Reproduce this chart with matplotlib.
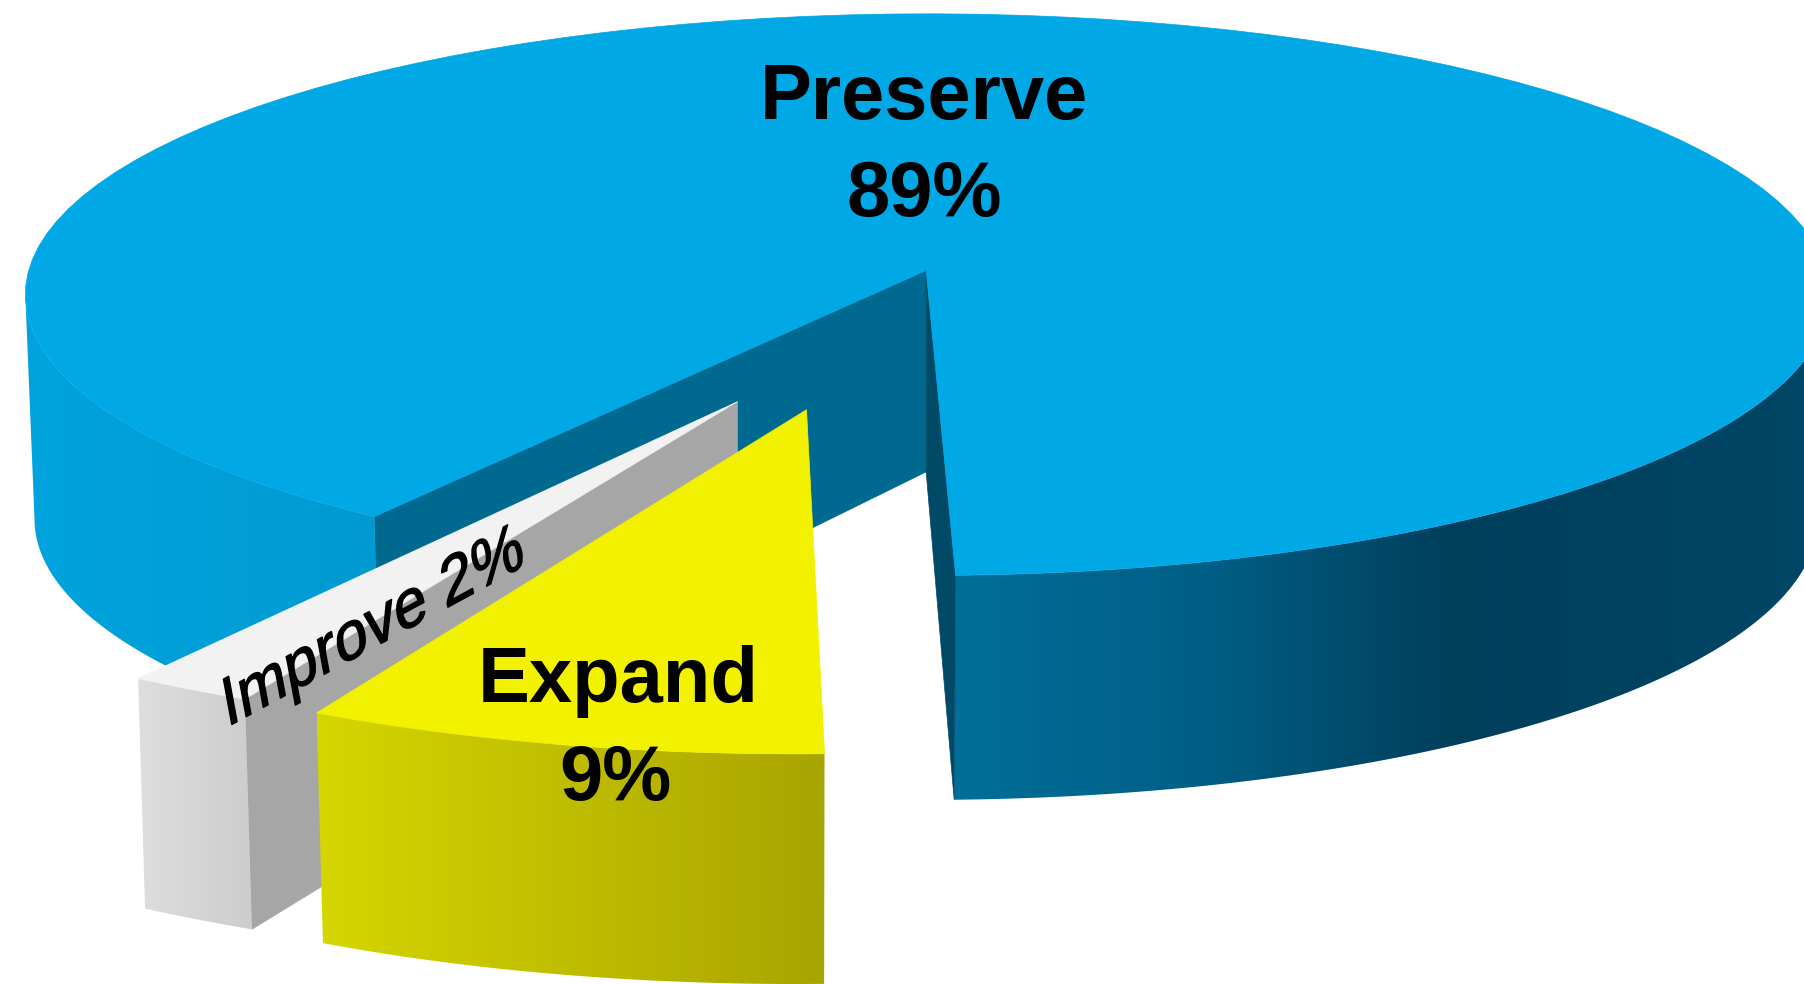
import numpy as np
import matplotlib
matplotlib.use("Agg")
import matplotlib.pyplot as plt
from matplotlib.colors import LinearSegmentedColormap
from matplotlib.patches import Polygon
from matplotlib.patheffects import AbstractPathEffect
from matplotlib.transforms import Affine2D

# Datos del grafico
labels = ["Preserve", "Expand", "Improve"]
shares = [89, 9, 2]

plt.rcParams['font.family'] = ['Liberation Sans', 'DejaVu Sans']

# angulos medidos desde abajo
angles = np.array(shares) * 3.6
START = 1.8
a_main = (START, START + angles[0])
a_expand = (START - angles[1], START)
a_improve = (START - angles[1] - angles[2], START - angles[1])

fig = plt.figure(figsize=(18.04, 9.84), dpi=100)
ax = fig.add_axes([0, 0, 1, 1])


def rim(cx, cy, a, b, t0, t1, n=120):
    t = np.radians(np.linspace(t0, t1, n))
    return np.column_stack([cx + a * np.sin(t), cy + b * np.cos(t)])


def face(pts, color, z):
    ax.add_patch(Polygon(pts, closed=True, fc=color, ec=color, lw=0.5, zorder=z))


def grad_face(pts, stops, z):
    # relleno con degradado horizontal recortado al poligono
    x0, x1 = pts[:, 0].min(), pts[:, 0].max()
    y0, y1 = pts[:, 1].min(), pts[:, 1].max()
    cmap = LinearSegmentedColormap.from_list("g", stops)
    im = ax.imshow(np.linspace(0, 1, 256)[None, :], cmap=cmap, aspect='auto',
                   extent=(x0, x1, y1, y0), zorder=z, interpolation='bilinear')
    im.set_clip_path(Polygon(pts, closed=True, transform=ax.transData))


class Shear(AbstractPathEffect):
    # inclina el texto a lo largo de su linea base
    def __init__(self, anchor, rot, skew, lw):
        super().__init__()
        self.anchor, self.rot, self.skew, self.lw = anchor, rot, skew, lw

    def draw_path(self, renderer, gc, tpath, affine, rgbFace=None):
        x0, y0 = ax.transData.transform(self.anchor)
        m = (Affine2D().translate(-x0, -y0).rotate_deg(-self.rot)
             .skew_deg(self.skew, 0).rotate_deg(self.rot).translate(x0, y0))
        gc0 = renderer.new_gc()
        gc0.copy_properties(gc)
        gc0.set_linewidth(self.lw)
        gc0.set_foreground("black")
        renderer.draw_path(gc0, tpath, affine + m, rgbFace)
        gc0.restore()


# Preserve
top = dict(cx=806, cy=256, a=784, b=244)
bot = dict(cx=805, cy=451, a=775, b=244)
apex, apex_b = (805, 235), (805, 410)

r_top = rim(**top, t0=a_main[0], t1=a_main[1])
r_l_t = rim(**top, t0=270, t1=a_main[1])
r_l_b = rim(**bot, t0=270, t1=a_main[1])
r_r_t = rim(**top, t0=a_main[0], t1=90)
r_r_b = rim(**bot, t0=a_main[0], t1=90)

face(np.vstack([apex, r_l_t[-1], r_l_b[-1], apex_b]), "#00698F", 1)
grad_face(np.vstack([r_l_t, r_l_b[::-1]]), ["#00A4DE", "#0099D2"], 2)
grad_face(np.vstack([r_r_t, r_r_b[::-1]]),
          [(0, "#006E9A"), (0.28, "#005F86"), (0.57, "#003F5C"), (1, "#004666")], 2)
face(np.vstack([apex, r_r_t[0], r_r_b[0], apex_b]), "#004A68", 3)
face(np.vstack([apex, r_top]), "#00A8E6", 4)

# Improve
i_top = dict(cx=668, cy=388, a=894, b=255)
i_bot = dict(cx=674, cy=588, a=894, b=255)
i_apex, i_apex_b = (641, 349), (641, 549)
t_i = rim(**i_top, t0=a_improve[0], t1=a_improve[1])
b_i = rim(**i_bot, t0=a_improve[0], t1=a_improve[1])
face(np.vstack([i_apex, t_i[-1], b_i[-1], i_apex_b]), "#A6A6A6", 5)
grad_face(np.vstack([t_i, b_i[::-1]]), ["#DEDEDE", "#CDCDCD"], 6)
face(np.vstack([i_apex, t_i]), "#F2F2F2", 7)

# Expand
e_top = dict(cx=691, cy=400, a=817, b=255)
e_bot = dict(cx=691, cy=600, a=806, b=255)
e_apex = (701, 356)
t_e = rim(**e_top, t0=a_expand[0], t1=a_expand[1])
b_e = rim(**e_bot, t0=a_expand[0], t1=a_expand[1])
grad_face(np.vstack([t_e, b_e[::-1]]), ["#D6D600", "#A8A400"], 8)
face(np.vstack([e_apex, t_e]), "#F2F200", 9)

# Textos
ax.text(803, 103, labels[0], ha='center', va='baseline', fontsize=56, fontweight='bold', zorder=10)
ax.text(803, 188, f"{shares[0]}%", ha='center', va='baseline', fontsize=56, fontweight='bold', zorder=10)
ax.text(537, 610, labels[1], ha='center', va='baseline', fontsize=56, fontweight='bold', zorder=10)
ax.text(535, 695, f"{shares[1]}%", ha='center', va='baseline', fontsize=56, fontweight='bold', zorder=10)
anchor = (197, 632)
t = ax.text(anchor[0], anchor[1], f"{labels[2]} {shares[2]}%", ha='left', va='baseline', rotation=28.5,
            rotation_mode='anchor', fontsize=46, zorder=10)
t.set_path_effects([Shear(anchor, 28.5, 18, 1.0)])

ax.set_xlim(0, 1568)
ax.set_ylim(855, 0)
ax.axis('off')
fig.savefig("out.png", dpi=100, facecolor="white")
